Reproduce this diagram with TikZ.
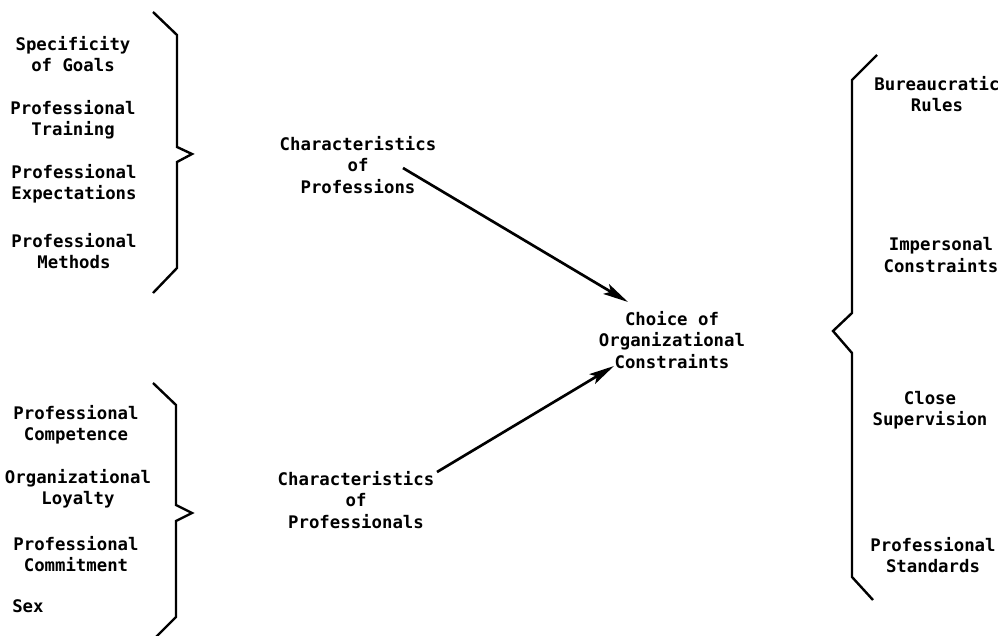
\documentclass[tikz,border=0pt]{standalone}
\usepackage{fontspec}
\setmonofont{DejaVu Sans Mono}
\usetikzlibrary{arrows.meta}
\begin{document}
\begin{tikzpicture}[x=0.75pt,y=-0.75pt,
  lbl/.style={align=center,inner sep=0pt,
    font=\ttfamily\bfseries\fontsize{13}{16}\selectfont},
  brace/.style={line width=1.8pt,line join=miter},
  flow/.style={line width=2pt,-{Stealth[length=19pt,width=8.5pt,inset=4pt]}}]
\useasboundingbox (0,0) rectangle (1006,635);

% profession characteristics
\node[lbl] (goals)  at (73,54)  {Specificity\\of Goals};
\node[lbl] (train)  at (73,120) {Professional\\Training};
\node[lbl] (expect) at (74,184) {Professional\\Expectations};
\node[lbl] (meth)   at (74,251) {Professional\\Methods};
\draw[brace] (153,12) -- (177,35) -- (177,147) -- (192,154) -- (177,162)
  -- (177,268) -- (153,293);

% professional characteristics
\node[lbl] (comp)   at (76,425) {Professional\\Competence};
\node[lbl] (loyal)  at (78,489) {Organizational\\Loyalty};
\node[lbl] (commit) at (76,554) {Professional\\Commitment};
\node[lbl,anchor=west] (sex) at (12,606) {Sex};
\draw[brace] (153,383) -- (176,405) -- (176,505) -- (192,513) -- (176,521)
  -- (176,617) -- (153,640);

% central chain
\node[lbl] (cprof)  at (358,165) {Characteristics\\of\\Professions};
\node[lbl] (cpros)  at (356,500) {Characteristics\\of\\Professionals};
\node[lbl] (choice) at (672,340) {Choice of\\Organizational\\Constraints};
\coordinate (a1s) at (403,168);
\coordinate (a1e) at (628,302);
\coordinate (a2s) at (437,472);
\coordinate (a2e) at (614,366);
\draw[flow] (a1s) -- (a1e);
\draw[flow] (a2s) -- (a2e);

% organizational constraints
\draw[brace] (877,55) -- (852,80) -- (852,313) -- (833,331) -- (852,353)
  -- (852,577) -- (873,600);
\node[lbl] (rules)  at (937,94)  {Bureaucratic\\Rules};
\node[lbl] (imper)  at (941,255) {Impersonal\\Constraints};
\node[lbl] (super)  at (930,410) {Close\\Supervision};
\node[lbl] (stand)  at (933,555) {Professional\\Standards};
\end{tikzpicture}
\end{document}
